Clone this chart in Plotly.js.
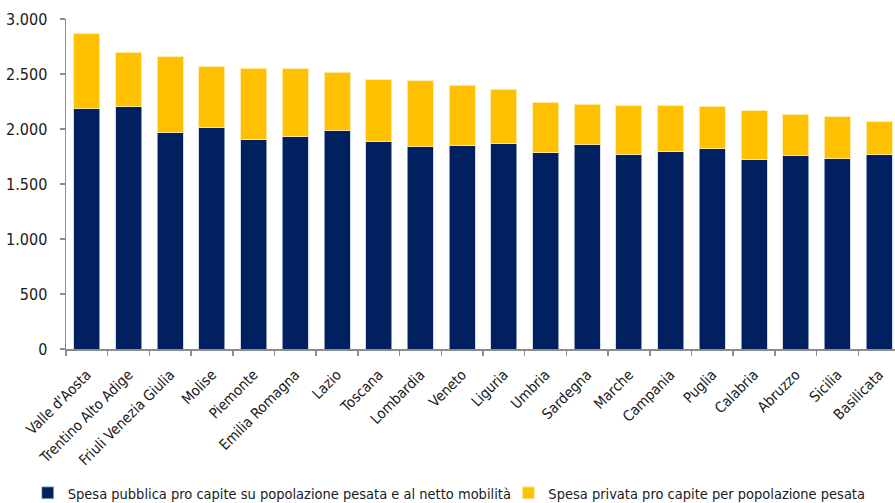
<!DOCTYPE html>
<html>
<head>
<meta charset="utf-8">
<script src="https://cdn.plot.ly/plotly-3.0.1.min.js"></script>
<style>html,body{margin:0;padding:0;background:#fff;}#chart{width:895px;height:503px;}</style>
</head>
<body>
<div id="chart"></div>
<script>
const regions = ["Valle d'Aosta","Trentino Alto Adige","Friuli Venezia Giulia","Molise","Piemonte","Emilia Romagna","Lazio","Toscana","Lombardia","Veneto","Liguria","Umbria","Sardegna","Marche","Campania","Puglia","Calabria","Abruzzo","Sicilia","Basilicata"];
const spesaPubblica = [2189,2201,1971,2010,1904,1931,1989,1889,1837,1850,1868,1783,1862,1771,1792,1822,1719,1762,1728,1765];
const spesaPrivata = [675,496,684,554,648,618,529,557,603,550,493,460,363,442,418,385,445,372,385,302];
const seriesNames = ["Spesa pubblica pro capite su popolazione pesata e al netto mobilità","Spesa privata pro capite per popolazione pesata"];

const FONT = "DejaVu Sans Condensed, DejaVu Sans, sans-serif";
const traces = [
  {type:'bar', x: regions, y: spesaPubblica, name: seriesNames[0], legend:'legend',
   marker:{color:'#00205F', line:{color:'rgba(190,200,220,0.7)', width:1}}},
  {type:'bar', x: regions, y: spesaPrivata, name: seriesNames[1], legend:'legend2',
   marker:{color:'#FFC000', line:{color:'rgba(255,235,170,0.9)', width:1}}}
];
const legFont = {family:FONT, size:14.5, color:'#1a1a1a'};
const layout = {
  width:895, height:503,
  barmode:'stack', bargap:0.376,
  separators:',.',
  margin:{l:66, r:0, t:19, b:154},
  paper_bgcolor:'#fff', plot_bgcolor:'#fff',
  font:{family:FONT, color:'#1a1a1a', size:14},
  showlegend:true,
  legend:{orientation:'h', xref:'container', yref:'container', x:0.031, xanchor:'left', y:0.02, yanchor:'middle',
          font:legFont, itemwidth:30, bgcolor:'rgba(0,0,0,0)'},
  legend2:{orientation:'h', xref:'container', yref:'container', x:0.568, xanchor:'left', y:0.02, yanchor:'middle',
          font:legFont, itemwidth:30, bgcolor:'rgba(0,0,0,0)'},
  xaxis:{type:'category', range:[-0.5,19.38], showline:true, linecolor:'#8c8c8c', linewidth:1.5,
         ticks:'outside', tickson:'boundaries', ticklen:5, tickcolor:'#8c8c8c', tickwidth:1.5,
         ticklabelstandoff:10,
         tickangle:-45, tickfont:{family:FONT, size:14.6, color:'#1a1a1a'}, showgrid:false, zeroline:false},
  yaxis:{range:[0,3000], dtick:500, tickformat:',d', showline:true, linecolor:'#8c8c8c', linewidth:1.5,
         ticks:'outside', ticklen:5, tickcolor:'#8c8c8c', tickwidth:1.5, ticklabelstandoff:9,
         tickfont:{family:FONT, size:16, color:'#1a1a1a'}, showgrid:false, zeroline:false}
};
Plotly.newPlot('chart', traces, layout, {displayModeBar:false, staticPlot:true});
</script>
</body>
</html>
